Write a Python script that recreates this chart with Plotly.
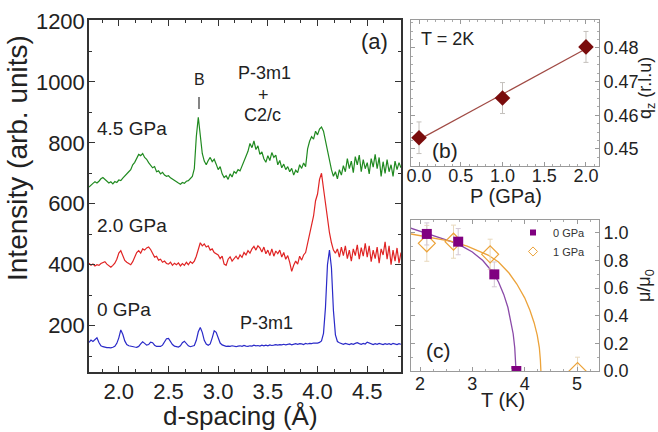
import numpy as np
import plotly.graph_objects as go

# ---------------- Panel (a) data: d-spacing grid and intensities ----------------
D_SPACING = [
    1.70, 1.72, 1.74, 1.76, 1.78, 1.80, 1.82, 1.84, 1.86, 1.88,
    1.90, 1.92, 1.94, 1.96, 1.98, 2.00, 2.02, 2.04, 2.06, 2.08,
    2.10, 2.12, 2.14, 2.16, 2.18, 2.20, 2.22, 2.24, 2.26, 2.28,
    2.30, 2.32, 2.34, 2.36, 2.38, 2.40, 2.42, 2.44, 2.46, 2.48,
    2.50, 2.52, 2.54, 2.56, 2.58, 2.60, 2.62, 2.64, 2.66, 2.68,
    2.70, 2.72, 2.74, 2.76, 2.78, 2.80, 2.82, 2.84, 2.86, 2.88,
    2.90, 2.92, 2.94, 2.96, 2.98, 3.00, 3.02, 3.04, 3.06, 3.08,
    3.10, 3.12, 3.14, 3.16, 3.18, 3.20, 3.22, 3.24, 3.26, 3.28,
    3.30, 3.32, 3.34, 3.36, 3.38, 3.40, 3.42, 3.44, 3.46, 3.48,
    3.50, 3.52, 3.54, 3.56, 3.58, 3.60, 3.62, 3.64, 3.66, 3.68,
    3.70, 3.72, 3.74, 3.76, 3.78, 3.80, 3.82, 3.84, 3.86, 3.88,
    3.90, 3.92, 3.94, 3.96, 3.98, 4.00, 4.02, 4.04, 4.06, 4.08,
    4.10, 4.12, 4.14, 4.16, 4.18, 4.20, 4.22, 4.24, 4.26, 4.28,
    4.30, 4.32, 4.34, 4.36, 4.38, 4.40, 4.42, 4.44, 4.46, 4.48,
    4.50, 4.52, 4.54, 4.56, 4.58, 4.60, 4.62, 4.64, 4.66, 4.68,
    4.70, 4.72, 4.74, 4.76, 4.78, 4.80, 4.82, 4.84,
]

I_45GPA = [
    655, 662, 667, 672, 668, 674, 682, 686, 680, 676,
    668, 672, 665, 673, 670, 678, 676, 684, 690, 697,
    705, 712, 728, 736, 748, 762, 758, 765, 752, 746,
    735, 728, 718, 722, 705, 708, 698, 703, 694, 690,
    692, 685, 680, 676, 672, 668, 664, 670, 667, 674,
    676, 682, 690, 715, 820, 884, 830, 765, 740, 728,
    742, 752, 738, 746, 730, 712, 722, 698, 686, 692,
    680, 698, 688, 706, 700, 712, 708, 726, 745, 756,
    772, 798, 784, 806, 778, 790, 762, 770, 748, 736,
    758, 742, 768, 752, 760, 728, 742, 718, 730, 712,
    722, 705, 716, 694, 710, 702, 728, 716, 734, 722,
    780, 805, 820, 812, 838, 826, 845, 852, 838, 805,
    775, 745, 712, 690, 705, 682, 712, 694, 725, 705,
    748, 715, 740, 702, 755, 728, 760, 705, 745, 715,
    735, 698, 748, 720, 762, 715, 752, 690, 738, 700,
    745, 705, 728, 690, 740, 712, 735, 718,
]

I_20GPA = [
    405, 398, 402, 396, 400, 398, 404, 408, 410, 402,
    396, 392, 398, 405, 418, 438, 446, 430, 414, 408,
    404, 400, 410, 428, 440, 446, 438, 452, 448, 455,
    458, 450, 438, 425, 428, 415, 418, 408, 412, 404,
    402, 408, 398, 405, 400, 406, 396, 404, 398, 408,
    400, 410, 404, 412, 428, 450, 472, 462, 468, 458,
    462, 448, 452, 440, 436, 432, 420, 428, 402, 398,
    418, 426, 412, 422, 428, 418, 432, 424, 440, 432,
    446, 438, 452, 460, 448, 462, 455, 442, 458, 436,
    448, 430, 452, 428, 445, 436, 448, 425, 440, 418,
    430, 408, 378, 398, 412, 402, 428, 415, 432, 440,
    470, 492, 520, 560, 610, 632, 680, 700, 650, 595,
    545, 505, 472, 448, 438, 452, 425, 458, 430, 462,
    420, 448, 412, 452, 430, 465, 418, 456, 428, 470,
    425, 462, 410, 448, 420, 458, 405, 452, 432, 475,
    418, 462, 400, 448, 412, 455, 405, 440,
]

I_0GPA = [
    145, 153, 148, 155, 160, 145, 134, 131, 129, 128,
    128, 127, 129, 132, 142, 160, 186, 172, 150, 138,
    134, 132, 130, 130, 129, 132, 140, 147, 142, 136,
    138, 146, 144, 136, 132, 131, 132, 136, 145, 157,
    158, 148, 138, 133, 131, 130, 134, 144, 149, 141,
    134, 131, 132, 135, 152, 180, 194, 178, 152, 140,
    136, 140, 160, 183, 178, 158, 143, 137, 134, 132,
    133, 132, 134, 133, 131, 133, 134, 132, 135, 133,
    132, 134, 133, 136, 134, 135, 133, 136, 134, 136,
    134, 137, 135, 136, 138, 136, 138, 137, 139, 137,
    138, 140, 137, 139, 141, 139, 141, 140, 138, 142,
    140, 142, 141, 143, 142, 143, 145, 150, 175, 260,
    400, 448, 390, 250, 170, 148, 144, 141, 139, 142,
    140, 138, 141, 139, 142, 144, 141, 139, 142, 140,
    146, 143, 140, 138, 141, 139, 142, 140, 138, 141,
    139, 141, 138, 142, 140, 138, 141, 139,
]

# ---------------- Panel (b) data ----------------
PRESSURE = [0.0, 1.0, 2.0]
QZ = [0.4533, 0.4651, 0.4803]
QZ_ERR = [0.0047, 0.0046, 0.0046]

# ---------------- Panel (c) data ----------------
T_0GPA = [2.13, 2.73, 3.42, 3.84]
MU_0GPA = [0.993, 0.937, 0.70, 0.0]
MU_0GPA_ERR = [0.08, 0.095, 0.09, 0.0]

T_1GPA = [2.13, 2.64, 3.34, 5.01]
MU_1GPA = [0.925, 0.937, 0.845, 0.0]
MU_1GPA_ERR = [0.13, 0.12, 0.11, 0.1]

# fitted order-parameter curves
FIT0_T = [1.82, 2.0, 2.2, 2.4, 2.6, 2.8, 3.0, 3.2, 3.4, 3.5, 3.6, 3.68, 3.74, 3.78, 3.81, 3.83, 3.835]
FIT0_MU = [1.035, 1.012, 0.988, 0.963, 0.937, 0.905, 0.862, 0.80, 0.71, 0.645, 0.555, 0.46, 0.36, 0.27, 0.17, 0.07, 0.0]
FIT1_T = [1.82, 2.0, 2.3, 2.6, 2.9, 3.1, 3.3, 3.5, 3.7, 3.85, 4.0, 4.1, 4.18, 4.24, 4.28, 4.30, 4.31]
FIT1_MU = [0.993, 0.982, 0.963, 0.94, 0.905, 0.875, 0.84, 0.79, 0.71, 0.63, 0.53, 0.44, 0.35, 0.26, 0.17, 0.08, 0.0]

FONT = "Arial, Liberation Sans, sans-serif"
W, H = 658, 432
GREEN, RED, BLUE = "#208a20", "#e02424", "#2a2ac8"
PURPLE, ORANGE = "#800080", "#eca33a"
DARKRED = "#7a0c0c"


def px(x):
    return x / W


def py(y):
    return 1 - y / H


fig = go.Figure()

# Panel (a)
for vals, col in [(I_45GPA, GREEN), (I_20GPA, RED), (I_0GPA, BLUE)]:
    fig.add_trace(go.Scatter(x=D_SPACING, y=vals, mode="lines", line=dict(color=col, width=1.2),
                             xaxis="x", yaxis="y", showlegend=False, hoverinfo="skip"))

# Panel (b)
coef = np.polyfit(PRESSURE, QZ, 1)
fit_b = np.polyval(coef, PRESSURE)
fig.add_trace(go.Scatter(x=PRESSURE, y=fit_b, mode="lines", line=dict(color="#a04a44", width=1.2),
                         xaxis="x2", yaxis="y2", showlegend=False))
fig.add_trace(go.Scatter(x=PRESSURE, y=QZ, mode="markers",
                         marker=dict(symbol="diamond", size=12, color=DARKRED),
                         error_y=dict(type="data", array=QZ_ERR, color="#c4c0bc", thickness=1, width=2.5),
                         xaxis="x2", yaxis="y2", showlegend=False))

# Panel (c)
fig.add_trace(go.Scatter(x=FIT0_T, y=FIT0_MU, mode="lines", line=dict(color="#8a4aa8", width=1.3),
                         xaxis="x3", yaxis="y3", showlegend=False))
fig.add_trace(go.Scatter(x=FIT1_T, y=FIT1_MU, mode="lines", line=dict(color=ORANGE, width=1.3),
                         xaxis="x3", yaxis="y3", showlegend=False))
fig.add_trace(go.Scatter(x=T_1GPA, y=MU_1GPA, mode="markers",
                         marker=dict(symbol="diamond-open", size=13, color=ORANGE, line=dict(width=1.2)),
                         error_y=dict(type="data", array=MU_1GPA_ERR, color="#e8d8bc", thickness=1, width=2.5),
                         xaxis="x3", yaxis="y3", showlegend=False))
fig.add_trace(go.Scatter(x=T_0GPA, y=MU_0GPA, mode="markers",
                         marker=dict(symbol="square", size=10, color=PURPLE),
                         error_y=dict(type="data", array=MU_0GPA_ERR, color="#d4c8d4", thickness=1, width=2.5),
                         xaxis="x3", yaxis="y3", showlegend=False))
# legend entries
fig.add_trace(go.Scatter(x=[None], y=[None], mode="markers", name="0 GPa",
                         marker=dict(symbol="square", size=6, color=PURPLE), xaxis="x3", yaxis="y3"))
fig.add_trace(go.Scatter(x=[None], y=[None], mode="markers", name="1 GPa",
                         marker=dict(symbol="diamond-open", size=7, color=ORANGE), xaxis="x3", yaxis="y3"))

dark_axis = dict(showline=True, linecolor="#333", linewidth=1.5, mirror="allticks", ticks="inside",
                 tickcolor="#333", ticklen=6, tickwidth=1.2, showgrid=False, zeroline=False,
                 automargin=False,
                 tickfont=dict(family=FONT, size=22, color="#222"))
gray_axis = dict(showline=True, linecolor="#9a9a9a", linewidth=1, mirror="allticks", ticks="inside",
                 tickcolor="#9a9a9a", ticklen=4, tickwidth=1, showgrid=False, zeroline=False,
                 automargin=False,
                 tickfont=dict(family=FONT, size=18, color="#222"))

fig.update_layout(
    width=W, height=H, margin=dict(l=0, r=0, t=0, b=0, autoexpand=False),
    paper_bgcolor="white", plot_bgcolor="white",
    font=dict(family=FONT, color="#222"),
    xaxis=dict(dark_axis, domain=[px(89), px(401)], range=[1.70, 4.84], anchor="y",
               dtick=0.5, tick0=0, tickformat=".1f", ticklabelstandoff=-1,
               minor=dict(dtick=0.5 / 3, tick0=2.0, ticks="inside", ticklen=3, tickcolor="#333")),
    yaxis=dict(dark_axis, domain=[py(372), py(20)], range=[48, 1203], anchor="x",
               dtick=200, tick0=0, ticklabelstandoff=-2,
               minor=dict(dtick=100, tick0=0, ticks="inside", ticklen=3, tickcolor="#333")),
    xaxis2=dict(gray_axis, domain=[px(411), px(599)], range=[-0.096, 2.156], anchor="y2",
                dtick=0.5, tick0=0, tickformat=".1f", ticklabelstandoff=-7,
                minor=dict(dtick=0.1, ticks="inside", ticklen=2, tickcolor="#aaa")),
    yaxis2=dict(gray_axis, domain=[py(166), py(20)], range=[0.4449, 0.4883], anchor="x2", side="right",
                dtick=0.01, tick0=0.45, tickformat=".2f",
                minor=dict(dtick=0.0025, ticks="inside", ticklen=2, tickcolor="#aaa")),
    xaxis3=dict(gray_axis, domain=[px(411), px(599)], range=[1.828, 5.42], anchor="y3",
                dtick=1, tick0=0, ticklabelstandoff=-4,
                minor=dict(dtick=0.25, ticks="inside", ticklen=2, tickcolor="#aaa")),
    yaxis3=dict(gray_axis, domain=[py(371), py(220)], range=[0, 1.094], anchor="x3", side="right",
                dtick=0.2, tick0=0, tickformat=".1f",
                minor=dict(dtick=0.1, ticks="inside", ticklen=2, tickcolor="#aaa")),
    legend=dict(x=px(513), y=py(218), xanchor="left", yanchor="top", bgcolor="rgba(0,0,0,0)",
                font=dict(family=FONT, size=11, color="#333"), tracegroupgap=0, itemwidth=30),
)

ann = []


def add_text(text, x, y, size, xanchor="center", angle=0, color="#222"):
    ann.append(dict(text=text, x=px(x), y=py(y), xref="paper", yref="paper", showarrow=False,
                    xanchor=xanchor, yanchor="middle", textangle=angle,
                    font=dict(family=FONT, size=size, color=color)))


add_text("(a)", 374, 42, 22)
add_text("B", 199, 80, 16)
add_text("P-3m1", 264, 73, 18)
add_text("+", 263, 95, 18)
add_text("C2/c", 262, 115, 18)
add_text("4.5 GPa", 95, 128, 19, xanchor="left")
add_text("2.0 GPa", 95, 225, 19, xanchor="left")
add_text("0 GPa", 95, 309, 19, xanchor="left")
add_text("P-3m1", 266, 323, 18)
add_text("d-spacing (Å)", 240, 416, 26)
add_text("Intensity (arb. units)", 18, 158, 28, angle=-90)
add_text("T = 2K", 447, 39, 18)
add_text("(b)", 445, 150, 21)
add_text("P (GPa)", 506, 196, 20)
add_text("q<sub>z</sub> (r.l.u)", 646, 88, 18, angle=-90)
add_text("(c)", 438, 350, 21)
add_text("T (K)", 503, 400, 20)
add_text("μ/μ<sub>0</sub>", 645, 286, 18, angle=-90)

fig.update_layout(annotations=ann,
                  shapes=[dict(type="line", xref="paper", yref="paper", x0=px(199), x1=px(199),
                               y0=py(97), y1=py(109), line=dict(color="#333", width=1.2))])

fig.write_html("out.html", config={"displayModeBar": False},
               post_script="document.body.style.margin='0';document.body.style.overflow='hidden';")
